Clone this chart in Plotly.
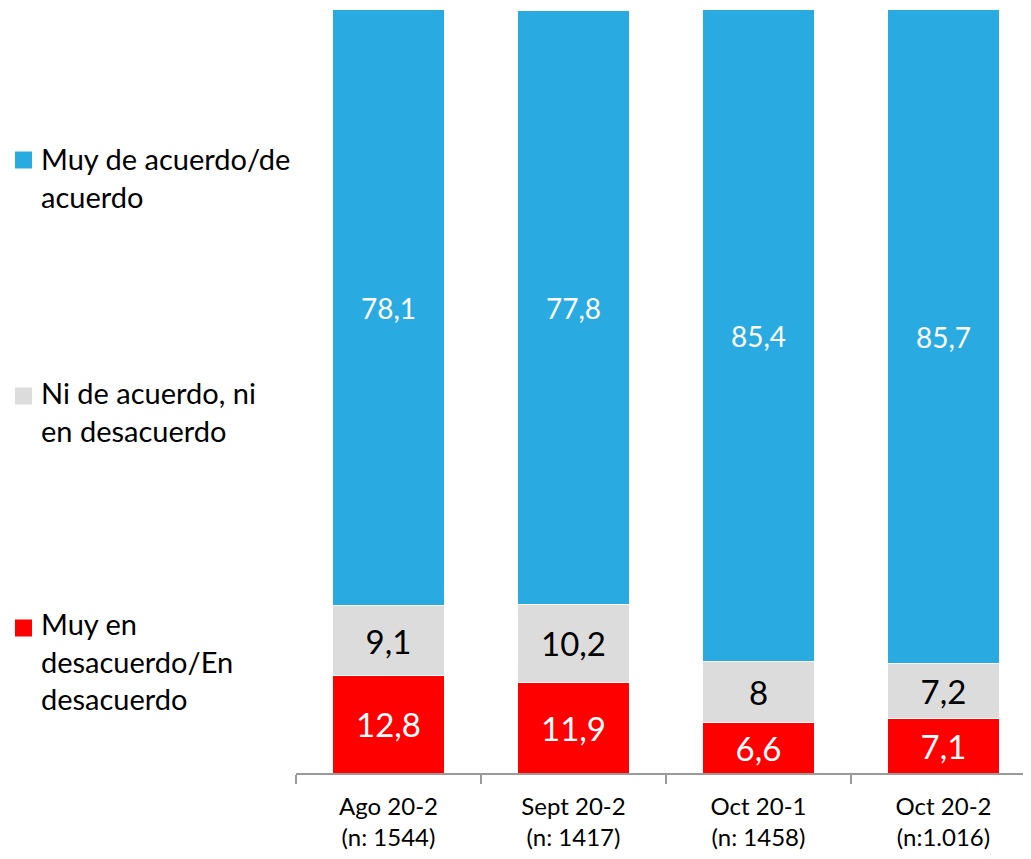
import plotly.graph_objects as go

categories = ["Ago 20-2<br>(n: 1544)", "Sept 20-2<br>(n: 1417)", "Oct 20-1<br>(n: 1458)", "Oct 20-2<br>(n:1.016)"]
desacuerdo = [12.8, 11.9, 6.6, 7.1]
neutral = [9.1, 10.2, 8.0, 7.2]
acuerdo = [78.1, 77.8, 85.4, 85.7]

series_names = ["Muy en<br>desacuerdo/En<br>desacuerdo", "Ni de acuerdo, ni<br>en desacuerdo", "Muy de acuerdo/de<br>acuerdo"]
colors = ["#FF0000", "#DCDCDC", "#29ABE2"]
text_colors = ["white", "black", "white"]
text_sizes = [33, 33, 28]

FONT = "Lato, 'Liberation Sans', Arial, sans-serif"

# figure geometry (page body adds an 8px offset)
W, H = 1023, 851
ML, MT, MB = 288, 0, 86
PW, PH = W - ML, H - MT - MB

def fmt(v):
    return f"{v:g}".replace(".", ",")

def px_to_paper(sx, sy):
    return (sx - 8 - ML) / PW, 1 - (sy - 8 - MT) / PH

fig = go.Figure()
for i, vals in enumerate([desacuerdo, neutral, acuerdo]):
    fig.add_trace(go.Bar(
        x=categories, y=vals, name=series_names[i],
        marker=dict(color=colors[i], line=dict(color="white", width=1)),
        text=[fmt(v) for v in vals],
        textposition="inside", insidetextanchor="middle", textangle=0,
        constraintext="none",
        textfont=dict(color=text_colors[i], size=text_sizes[i], family=FONT),
        hoverinfo="skip", showlegend=False,
    ))

# manual legend (blue, grey, red from top)
legend_text_centers = [661, 411, 177]   # screen y of text block centres
legend_square_centers = [628, 396, 160]
shapes, annotations = [], []
for i in range(3):
    x0, _ = px_to_paper(15, legend_square_centers[i])
    x1, _ = px_to_paper(32, legend_square_centers[i])
    _, y0 = px_to_paper(0, legend_square_centers[i] - 8.5)
    _, y1 = px_to_paper(0, legend_square_centers[i] + 8.5)
    shapes.append(dict(type="rect", xref="paper", yref="paper", x0=x0, x1=x1, y0=y0, y1=y1,
                       fillcolor=colors[i], line=dict(width=0)))
    tx, ty = px_to_paper(39, legend_text_centers[i])
    annotations.append(dict(text=series_names[i], xref="paper", yref="paper", x=tx, y=ty,
                            xanchor="left", yanchor="middle", align="left", showarrow=False,
                            font=dict(size=29, color="black", family=FONT)))

fig.update_layout(
    width=W, height=H,
    barmode="stack", bargap=0.395,
    plot_bgcolor="white", paper_bgcolor="white",
    margin=dict(l=ML, r=0, t=MT, b=MB, autoexpand=False),
    font=dict(family=FONT, color="black"),
    showlegend=False,
    shapes=shapes, annotations=annotations,
    xaxis=dict(
        type="category", range=[-0.5, -0.5 + PW / 185],
        showline=True, linecolor="#9A9A9A", linewidth=2,
        ticks="outside", tickson="boundaries", ticklen=9, tickcolor="#9A9A9A", tickwidth=2,
        tickfont=dict(size=24, color="black", family=FONT),
        ticklabelstandoff=11,
        showgrid=False, zeroline=False,
    ),
    yaxis=dict(range=[0, 100 + 2 / (PH / 100)], visible=False, showgrid=False, zeroline=False),
)

fig.write_html("out.html")
